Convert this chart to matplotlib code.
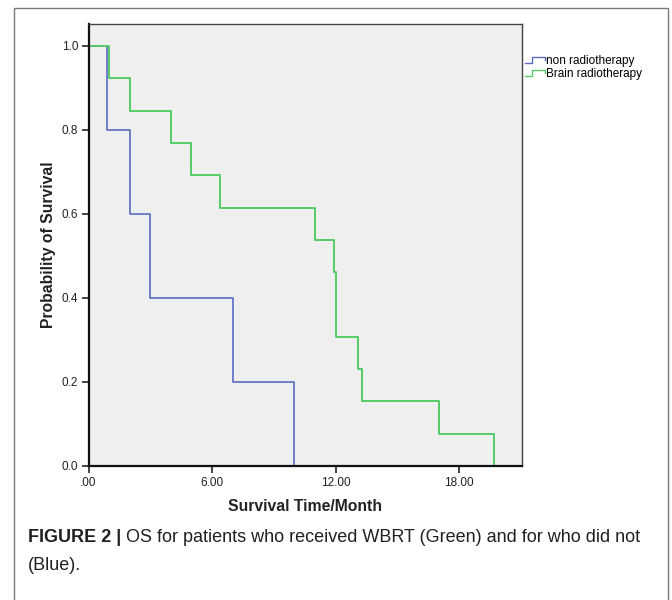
import matplotlib
matplotlib.use("Agg")
import matplotlib.pyplot as plt
import numpy as np
from matplotlib.lines import Line2D
from matplotlib.patches import Rectangle
from matplotlib.legend_handler import HandlerBase

# ---- data ----
series_names = ["non radiotherapy", "Brain radiotherapy"]
non_rt_times = [0.0, 0.9, 2.0, 3.0, 7.0, 10.0]
non_rt_surv = [1.0, 0.8, 0.6, 0.4, 0.2, 0.0]
rt_times = [0.0, 1.0, 2.0, 4.0, 5.0, 6.4, 11.0, 11.9, 12.0, 13.1, 13.3, 17.0, 19.7]
rt_surv = [1.0, 0.923, 0.846, 0.769, 0.692, 0.615, 0.538, 0.462, 0.308, 0.231, 0.154, 0.077, 0.0]
x_ticks = [0, 6, 12, 18]
x_tick_labels = [".00", "6.00", "12.00", "18.00"]
y_ticks = [0.0, 0.2, 0.4, 0.6, 0.8, 1.0]
y_tick_labels = ["0.0", "0.2", "0.4", "0.6", "0.8", "1.0"]
x_label = "Survival Time/Month"
y_label = "Probability of Survival"
caption_bold = "FIGURE 2 |"
caption_line1 = "OS for patients who received WBRT (Green) and for who did not"
caption_line2 = "(Blue)."

BLUE = "#5a6cc6"
GREEN = "#55cc66"

W, H = 672, 600
fig = plt.figure(figsize=(W / 100, H / 100), dpi=100)
plt.rcParams["font.family"] = ["Liberation Sans", "DejaVu Sans"]


def fx(x):
    return x / W


def fy(y):
    return 1 - y / H


# outer border
fig.add_artist(Rectangle((fx(14), fy(603)), fx(668) - fx(14), fy(8) - fy(603),
                         transform=fig.transFigure, fill=False, ec="#7a7a7a", lw=1.0))

ax_l, ax_r, ax_t, ax_b = 88.5, 522, 24, 466
ax = fig.add_axes([fx(ax_l), fy(ax_b), fx(ax_r) - fx(ax_l), fy(ax_t) - fy(ax_b)])
ax.set_facecolor("#efefef")

ax.step(non_rt_times, non_rt_surv, where="post", color=BLUE, lw=1.2, label=series_names[0])
ax.step(rt_times, rt_surv, where="post", color=GREEN, lw=1.4, label=series_names[1])

ax.set_xlim(0, 21.05)
ax.set_ylim(0, 1.052)
ax.set_xticks(x_ticks)
ax.set_xticklabels(x_tick_labels)
ax.set_yticks(y_ticks)
ax.set_yticklabels(y_tick_labels)
ax.tick_params(direction="out", length=5, width=1.2, labelsize=8.5, colors="#222222", pad=2.5)
ax.tick_params(axis="x", pad=3)
for s in ["left", "bottom"]:
    ax.spines[s].set_linewidth(1.6)
    ax.spines[s].set_color("#111111")
for s in ["top", "right"]:
    ax.spines[s].set_linewidth(1.0)
    ax.spines[s].set_color("#444444")

ax.set_xlabel(x_label, fontsize=11.3, fontweight="bold", labelpad=7, color="#222222")
ax.set_ylabel(y_label, fontsize=11.3, fontweight="bold", labelpad=4, color="#222222")


class StepHandler(HandlerBase):
    def create_artists(self, legend, orig_handle, xdescent, ydescent, width, height, fontsize, trans):
        x0 = -xdescent
        y0 = -ydescent
        xs = [x0, x0 + width * 0.35, x0 + width * 0.35, x0 + width, x0 + width]
        ys = [y0 + height * 0.15, y0 + height * 0.15, y0 + height * 0.85, y0 + height * 0.85, y0 + height * 0.5]
        ln = Line2D(xs, ys, color=orig_handle.get_color(), lw=1.0, transform=trans)
        return [ln]


handles, labels = ax.get_legend_handles_labels()
leg = fig.legend(handles, labels, loc="upper left", bbox_to_anchor=(fx(525), fy(55)),
                 frameon=False, fontsize=8.5, handlelength=1.7, handletextpad=0.1,
                 labelspacing=0.1, borderpad=0, borderaxespad=0,
                 handler_map={Line2D: StepHandler()})

# caption
cap_font = ["Liberation Sans Narrow", "Liberation Sans", "DejaVu Sans"]
t1 = fig.text(fx(28), fy(538), caption_bold, fontsize=13, fontweight="bold",
              family=cap_font, va="center", ha="left", color="#231f20")
fig.canvas.draw()
bb = t1.get_window_extent()
fig.text(bb.x1 / (W) + fx(5), fy(538), caption_line1, fontsize=13,
         family=cap_font, va="center", ha="left", color="#231f20")
fig.text(fx(28), fy(565), caption_line2, fontsize=13,
         family=cap_font, va="center", ha="left", color="#231f20")

fig.savefig("out.png", dpi=100)
